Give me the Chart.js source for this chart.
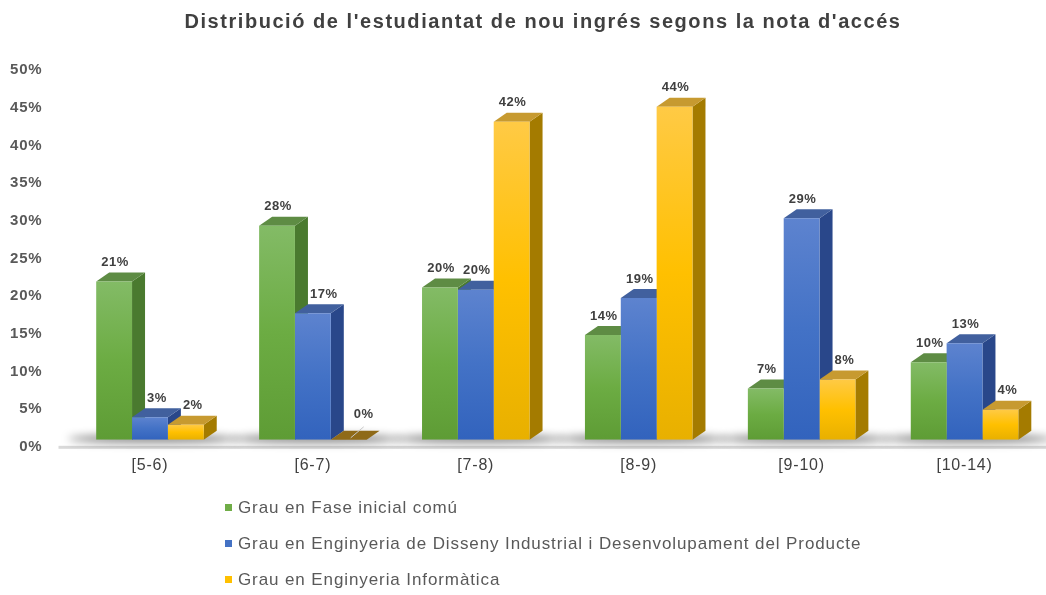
<!DOCTYPE html>
<html><head><meta charset="utf-8">
<script src="https://cdn.jsdelivr.net/npm/chart.js@4/dist/chart.umd.min.js"></script>
<style>
html,body{margin:0;padding:0;background:#fff;}
#wrap{position:relative;width:1046px;height:595px;overflow:hidden;}
canvas{display:block;}
#title{position:absolute;left:40px;width:1006px;top:10px;height:24px;line-height:24px;text-align:center;font:bold 20px 'Liberation Sans',Arial,sans-serif;color:#404040;letter-spacing:1.55px;white-space:nowrap;}
.item{position:absolute;left:225px;height:24px;line-height:24px;font:17px 'Liberation Sans',Arial,sans-serif;color:#595959;letter-spacing:0.9px;white-space:nowrap;}
.box{display:inline-block;width:7px;height:7px;margin-right:6px;vertical-align:2px;}
</style>
</head><body>
<div id="wrap"><canvas id="c" width="1046" height="595"></canvas><div id="title"></div><div id="legend"></div></div>
<script>
const categories = ['[5-6)', '[6-7)', '[7-8)', '[8-9)', '[9-10)', '[10-14)'];
const seriesNames = ['Grau en Fase inicial comú', 'Grau en Enginyeria de Disseny Industrial i Desenvolupament del Producte', 'Grau en Enginyeria Informàtica'];
const faseInicial = [0.21, 0.284, 0.202, 0.139, 0.068, 0.103];
const dissenyIndustrial = [0.03, 0.168, 0.199, 0.188, 0.294, 0.128];
const informatica = [0.02, 0.0, 0.422, 0.442, 0.08, 0.04];
const yTickValues = [0, 0.05, 0.10, 0.15, 0.20, 0.25, 0.30, 0.35, 0.40, 0.45, 0.50];
const titleText = "Distribució de l'estudiantat de nou ingrés segons la nota d'accés";

const palettes = [
  {legend:'#70ad47', top:'#83bb66', mid:'#6cac43', bot:'#5e9c35', side:'#4a7a2f', cap:'#5e8c44'},
  {legend:'#4472c4', top:'#5d83cf', mid:'#4372c6', bot:'#3263bd', side:'#29478a', cap:'#41609e'},
  {legend:'#ffc000', top:'#ffca45', mid:'#ffc000', bot:'#e8b000', side:'#a47b00', cap:'#c79a30'}
];
const DX = 13, DY = 9;
const FONT = "'Liberation Sans', Arial, sans-serif";

function frontColor(i) {
  return function(ctx) {
    const chart = ctx.chart;
    const p = palettes[i];
    if (!chart.chartArea || ctx.raw === undefined) return p.mid;
    const ys = chart.scales.y;
    const t = ys.getPixelForValue(ctx.raw), b = ys.getPixelForValue(0);
    if (Math.abs(b - t) < 1) return p.mid;
    const g = chart.ctx.createLinearGradient(0, t, 0, b);
    g.addColorStop(0, p.top);
    g.addColorStop(0.5, p.mid);
    g.addColorStop(1, p.bot);
    return g;
  };
}

const threeD = {
  id: 'threeD',
  beforeDraw(chart) { chart.ctx.letterSpacing = '0.8px'; },
  beforeDatasetsDraw(chart) {
    const ctx = chart.ctx;
    const ys = chart.scales.y;
    const base = ys.getPixelForValue(0);
    ctx.save();
    ctx.fillStyle = '#d9d9d9';
    ctx.fillRect(chart.chartArea.left - 10, base + 6, chart.width, 3);
    const metas = chart.data.datasets.map((d, i) => chart.getDatasetMeta(i));
    ctx.save();
    ctx.filter = 'blur(4px)';
    ctx.fillStyle = 'rgba(0,0,0,0.5)';
    categories.forEach((c, j) => {
      const b0 = metas[0].data[j], b2 = metas[metas.length - 1].data[j];
      const l = b0.x - b0.width / 2 - 28, r = b2.x + b2.width / 2 + DX + 22;
      ctx.beginPath();
      ctx.ellipse((l + r) / 2, base - 1, (r - l) / 2, 4, 0, 0, Math.PI * 2);
      ctx.fill();
    });
    ctx.restore();
    categories.forEach((c, j) => {
      metas.forEach((meta, i) => {
        const p = palettes[i];
        const bar = meta.data[j];
        const {x, y, base: b, width} = bar.getProps(['x', 'y', 'base', 'width'], true);
        const l = x - width / 2, r = x + width / 2;
        const flat = Math.abs(b - y) < 1;
        if (!flat) {
          ctx.fillStyle = p.side;
          ctx.beginPath();
          ctx.moveTo(r, b); ctx.lineTo(r + DX, b - DY); ctx.lineTo(r + DX, y - DY); ctx.lineTo(r, y);
          ctx.closePath(); ctx.fill();
        }
        ctx.fillStyle = flat ? '#8f6a18' : p.cap;
        ctx.beginPath();
        ctx.moveTo(l, y); ctx.lineTo(l + DX, y - DY); ctx.lineTo(r + DX, y - DY); ctx.lineTo(r, y);
        ctx.closePath(); ctx.fill();
      });
    });
    ctx.restore();
  },
  afterDatasetsDraw(chart) {
    const ctx = chart.ctx;
    ctx.save();
    ctx.letterSpacing = '0.5px';
    ctx.font = 'bold 13px ' + FONT;
    ctx.fillStyle = '#404040';
    ctx.textAlign = 'center';
    ctx.textBaseline = 'middle';
    chart.data.datasets.forEach((ds, i) => {
      chart.getDatasetMeta(i).data.forEach((bar, j) => {
        const v = ds.data[j];
        const txt = Math.round(v * 100) + '%';
        const w = ctx.measureText(txt).width;
        if (v === 0) {
          ctx.strokeStyle = '#c8c8c8';
          ctx.lineWidth = 1;
          ctx.beginPath();
          ctx.moveTo(bar.x + 2, bar.y - 2); ctx.lineTo(bar.x + 15, bar.y - 13);
          ctx.stroke();
          ctx.fillText(txt, bar.x + 15, bar.y - 25);
          return;
        }
        let cx = bar.x + 1;
        const prev = i > 0 ? chart.data.datasets[i - 1].data[j] : null;
        if (prev !== null && prev > v + 0.005) {
          cx = Math.max(cx, bar.x - bar.width / 2 + 15 + w / 2);
        }
        ctx.fillText(txt, cx, bar.y - DY - 10);
      });
    });
    ctx.restore();
  }
};

new Chart(document.getElementById('c'), {
  type: 'bar',
  data: {
    labels: categories,
    datasets: [
      {label: seriesNames[0], data: faseInicial, backgroundColor: frontColor(0)},
      {label: seriesNames[1], data: dissenyIndustrial, backgroundColor: frontColor(1)},
      {label: seriesNames[2], data: informatica, backgroundColor: frontColor(2)}
    ]
  },
  options: {
    responsive: false,
    animation: false,
    devicePixelRatio: 1,
    layout: {padding: {top: 63, left: 0, right: 0, bottom: 104}},
    datasets: {bar: {barPercentage: 1, categoryPercentage: 0.66, borderWidth: 0}},
    plugins: {
      legend: {display: false},
      tooltip: {enabled: false},
      title: {display: false}
    },
    scales: {
      x: {
        grid: {display: false, drawTicks: false},
        border: {display: false},
        ticks: {color: '#404040', padding: 16, font: {family: FONT, size: 16}}
      },
      y: {
        min: 0, max: 0.5,
        afterBuildTicks: (s) => { s.ticks = yTickValues.map(v => ({value: v})); },
        afterFit: (s) => { s.width = 68.5; },
        grid: {display: false, drawTicks: false},
        border: {display: false},
        ticks: {
          color: '#595959', padding: 26, labelOffset: 7,
          font: {family: FONT, size: 15, weight: 'bold'},
          callback: (v) => Math.round(v * 100) + '%'
        }
      }
    }
  },
  plugins: [threeD]
});

document.getElementById('title').textContent = titleText;
const lg = document.getElementById('legend');
seriesNames.forEach((n, i) => {
  const d = document.createElement('div');
  d.className = 'item';
  d.style.top = (498 + i * 36) + 'px';
  const b = document.createElement('span');
  b.className = 'box';
  b.style.background = palettes[i].legend;
  d.appendChild(b);
  d.appendChild(document.createTextNode(n));
  lg.appendChild(d);
});
</script>
</body></html>
